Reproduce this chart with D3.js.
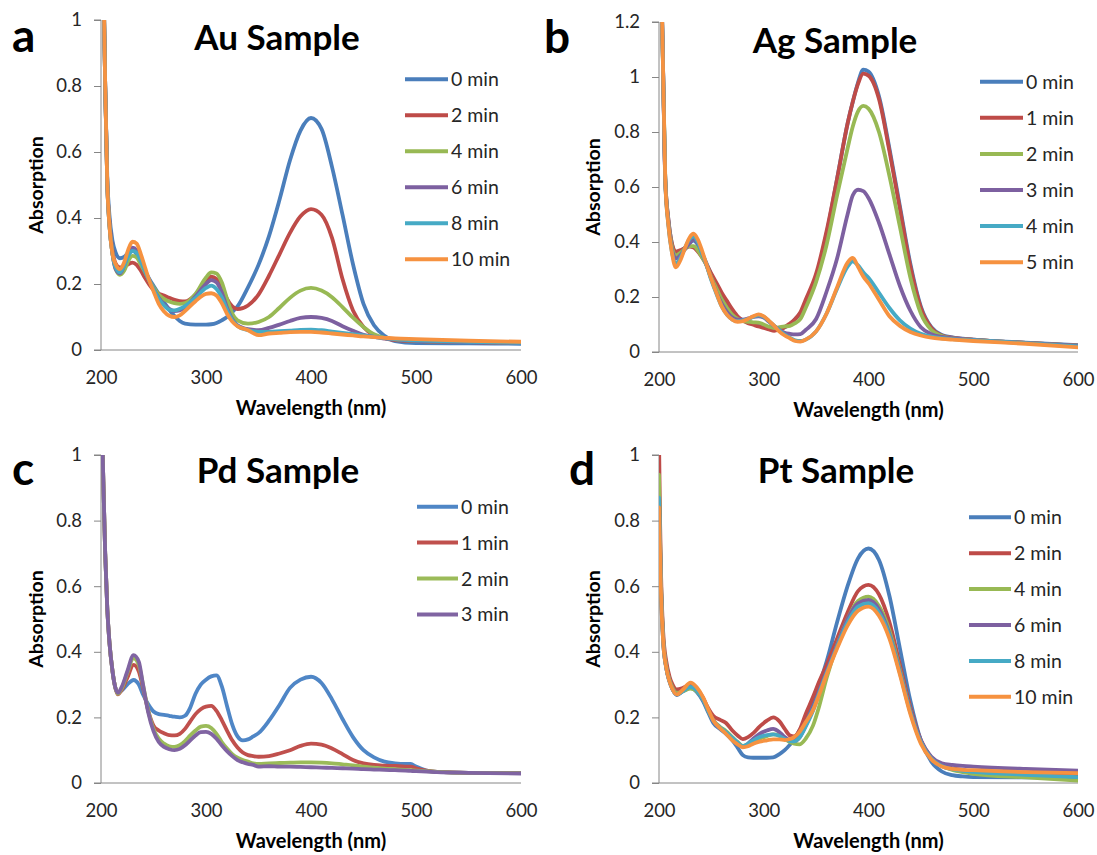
<!DOCTYPE html>
<html>
<head>
<meta charset="utf-8">
<script src="https://cdn.jsdelivr.net/npm/d3@7"></script>
<style>
  html, body { margin: 0; padding: 0; background: #ffffff; }
  svg { display: block; font-family: Lato, "Liberation Sans", Arial, sans-serif; }
</style>
</head>
<body>
<svg id="fig" width="1097" height="855"></svg>
<script>
// ---------- Shared tick labels ----------
const X_TICKS = [200, 300, 400, 500, 600];
const Y_TICKS_1 = [0, 0.2, 0.4, 0.6, 0.8, 1];
const Y_TICKS_12 = [0, 0.2, 0.4, 0.6, 0.8, 1, 1.2];

// ---------- (a) Au sample ----------
const WL_AU = [200, 203, 204, 206, 208, 211, 214, 218, 222, 226, 230, 234, 238, 242, 246, 250, 255, 260, 265, 270, 275, 280, 290, 300, 305, 310, 315, 320, 325, 330, 340, 350, 360, 370, 380, 390, 400, 410, 420, 430, 440, 450, 460, 470, 480, 500, 550, 600];
const AU_0  = [1.5, 1.0, 0.8, 0.52, 0.41, 0.33, 0.295, 0.278, 0.282, 0.295, 0.302, 0.29, 0.265, 0.24, 0.215, 0.195, 0.17, 0.145, 0.122, 0.103, 0.088, 0.08, 0.077, 0.077, 0.078, 0.082, 0.09, 0.1, 0.115, 0.132, 0.19, 0.258, 0.345, 0.455, 0.575, 0.665, 0.703, 0.67, 0.555, 0.41, 0.26, 0.14, 0.075, 0.043, 0.027, 0.021, 0.02, 0.019];
const AU_2  = [1.5, 1.0, 0.8, 0.5, 0.39, 0.3, 0.262, 0.25, 0.252, 0.26, 0.265, 0.258, 0.24, 0.218, 0.198, 0.182, 0.171, 0.165, 0.158, 0.152, 0.148, 0.147, 0.168, 0.21, 0.222, 0.215, 0.19, 0.155, 0.132, 0.124, 0.135, 0.168, 0.225, 0.29, 0.355, 0.405, 0.427, 0.41, 0.34, 0.215, 0.12, 0.07, 0.045, 0.035, 0.03, 0.027, 0.024, 0.021];
const AU_4  = [1.5, 1.0, 0.8, 0.5, 0.38, 0.29, 0.245, 0.228, 0.24, 0.27, 0.285, 0.28, 0.258, 0.235, 0.21, 0.19, 0.168, 0.155, 0.147, 0.142, 0.14, 0.142, 0.17, 0.22, 0.235, 0.232, 0.205, 0.155, 0.11, 0.09, 0.08, 0.085, 0.1, 0.128, 0.158, 0.18, 0.188, 0.18, 0.16, 0.13, 0.098, 0.07, 0.048, 0.037, 0.032, 0.028, 0.025, 0.022];
const AU_6  = [1.5, 1.0, 0.8, 0.5, 0.38, 0.29, 0.245, 0.232, 0.255, 0.29, 0.31, 0.302, 0.272, 0.24, 0.21, 0.185, 0.158, 0.138, 0.125, 0.118, 0.12, 0.128, 0.162, 0.2, 0.212, 0.205, 0.175, 0.128, 0.093, 0.075, 0.063, 0.06, 0.067, 0.077, 0.088, 0.097, 0.1, 0.097, 0.088, 0.072, 0.058, 0.046, 0.04, 0.035, 0.032, 0.028, 0.024, 0.021];
const AU_8  = [1.5, 1.0, 0.8, 0.5, 0.38, 0.29, 0.25, 0.235, 0.255, 0.285, 0.3, 0.295, 0.268, 0.238, 0.21, 0.185, 0.155, 0.135, 0.122, 0.12, 0.125, 0.133, 0.158, 0.188, 0.195, 0.185, 0.16, 0.122, 0.09, 0.073, 0.06, 0.055, 0.055, 0.057, 0.059, 0.061, 0.062, 0.06, 0.056, 0.052, 0.048, 0.044, 0.04, 0.036, 0.033, 0.029, 0.025, 0.022];
const AU_10 = [1.5, 1.0, 0.8, 0.5, 0.38, 0.29, 0.26, 0.245, 0.265, 0.305, 0.328, 0.322, 0.29, 0.25, 0.21, 0.178, 0.14, 0.117, 0.104, 0.1, 0.105, 0.118, 0.148, 0.17, 0.172, 0.165, 0.142, 0.11, 0.086, 0.072, 0.06, 0.045, 0.05, 0.052, 0.054, 0.055, 0.055, 0.053, 0.05, 0.047, 0.044, 0.041, 0.039, 0.037, 0.035, 0.033, 0.028, 0.025];
const AU_LABELS = ["0 min", "2 min", "4 min", "6 min", "8 min", "10 min"];

// ---------- (b) Ag sample ----------
const WL_AG = [200, 203, 206, 209, 212, 216, 220, 225, 229, 233, 237, 241, 245, 250, 255, 260, 265, 270, 275, 280, 285, 290, 295, 300, 305, 310, 315, 320, 325, 330, 335, 340, 350, 360, 370, 380, 385, 390, 395, 400, 410, 420, 430, 440, 450, 460, 470, 480, 500, 550, 600];
const AG_0 = [1.5, 1.2, 0.63, 0.48, 0.4, 0.36, 0.365, 0.38, 0.395, 0.405, 0.39, 0.36, 0.325, 0.28, 0.235, 0.2, 0.165, 0.14, 0.125, 0.115, 0.11, 0.105, 0.1, 0.095, 0.09, 0.085, 0.085, 0.09, 0.1, 0.12, 0.14, 0.17, 0.27, 0.43, 0.63, 0.83, 0.91, 0.98, 1.027, 1.02, 0.93, 0.74, 0.53, 0.32, 0.165, 0.09, 0.062, 0.053, 0.045, 0.034, 0.025];
const AG_1 = [1.5, 1.2, 0.63, 0.48, 0.4, 0.365, 0.37, 0.378, 0.383, 0.38, 0.365, 0.345, 0.32, 0.285, 0.25, 0.215, 0.185, 0.155, 0.13, 0.115, 0.105, 0.099, 0.093, 0.088, 0.082, 0.077, 0.082, 0.09, 0.104, 0.12, 0.145, 0.19, 0.285, 0.44, 0.63, 0.83, 0.91, 0.975, 1.012, 1.005, 0.92, 0.73, 0.52, 0.31, 0.16, 0.088, 0.06, 0.052, 0.045, 0.033, 0.023];
const AG_2 = [1.5, 1.2, 0.63, 0.47, 0.39, 0.35, 0.36, 0.375, 0.385, 0.385, 0.37, 0.345, 0.318, 0.27, 0.23, 0.19, 0.16, 0.135, 0.12, 0.112, 0.11, 0.108, 0.107, 0.1, 0.092, 0.087, 0.09, 0.093, 0.095, 0.105, 0.12, 0.16, 0.255, 0.39, 0.57, 0.74, 0.82, 0.875, 0.895, 0.885, 0.8, 0.64, 0.455, 0.27, 0.14, 0.08, 0.058, 0.05, 0.044, 0.033, 0.023];
const AG_3 = [1.5, 1.2, 0.62, 0.47, 0.38, 0.34, 0.35, 0.375, 0.395, 0.41, 0.395, 0.36, 0.32, 0.265, 0.215, 0.175, 0.145, 0.125, 0.118, 0.118, 0.122, 0.128, 0.13, 0.125, 0.11, 0.095, 0.08, 0.07, 0.066, 0.064, 0.065, 0.08, 0.12, 0.22, 0.34, 0.5, 0.57, 0.59, 0.585, 0.56, 0.47, 0.355, 0.24, 0.15, 0.09, 0.065, 0.055, 0.05, 0.044, 0.033, 0.023];
const AG_4 = [1.5, 1.2, 0.62, 0.46, 0.37, 0.32, 0.34, 0.38, 0.41, 0.42, 0.4, 0.36, 0.32, 0.26, 0.21, 0.165, 0.135, 0.118, 0.112, 0.115, 0.12, 0.128, 0.133, 0.128, 0.112, 0.095, 0.078, 0.063, 0.052, 0.042, 0.04, 0.045, 0.075, 0.14, 0.23, 0.31, 0.33, 0.315, 0.29, 0.27, 0.215, 0.16, 0.115, 0.085, 0.066, 0.056, 0.05, 0.047, 0.043, 0.032, 0.02];
const AG_5 = [1.5, 1.2, 0.62, 0.46, 0.37, 0.308, 0.33, 0.38, 0.415, 0.43, 0.41, 0.37, 0.322, 0.265, 0.213, 0.165, 0.135, 0.118, 0.11, 0.112, 0.12, 0.13, 0.137, 0.13, 0.113, 0.095, 0.074, 0.06, 0.05, 0.04, 0.038, 0.045, 0.075, 0.14, 0.235, 0.325, 0.342, 0.31, 0.275, 0.25, 0.19, 0.13, 0.095, 0.073, 0.06, 0.052, 0.048, 0.045, 0.04, 0.03, 0.017];
const AG_LABELS = ["0 min", "1 min", "2 min", "3 min", "4 min", "5 min"];

// ---------- (c) Pd sample ----------
const WL_PD = [200, 202, 204, 206, 208, 211, 213, 216, 220, 225, 231, 236, 240, 245, 250, 255, 260, 265, 270, 275, 280, 285, 290, 295, 300, 305, 310, 315, 320, 325, 330, 335, 340, 345, 350, 360, 370, 380, 390, 400, 410, 420, 430, 440, 450, 460, 470, 480, 490, 495, 500, 510, 520, 550, 600];
const PD_0 = [1.2, 0.95, 0.7, 0.53, 0.43, 0.34, 0.3, 0.275, 0.283, 0.3, 0.314, 0.3, 0.27, 0.24, 0.218, 0.21, 0.208, 0.205, 0.202, 0.2, 0.205, 0.23, 0.272, 0.3, 0.315, 0.325, 0.328, 0.295, 0.235, 0.178, 0.142, 0.13, 0.133, 0.142, 0.152, 0.19, 0.238, 0.29, 0.315, 0.324, 0.305, 0.255, 0.195, 0.14, 0.1, 0.078, 0.065, 0.06, 0.058, 0.058, 0.05, 0.038, 0.034, 0.031, 0.03];
const PD_1 = [1.2, 0.95, 0.7, 0.53, 0.43, 0.34, 0.3, 0.27, 0.285, 0.32, 0.36, 0.34, 0.29, 0.22, 0.175, 0.16, 0.152, 0.146, 0.145, 0.15, 0.165, 0.188, 0.21, 0.225, 0.233, 0.235, 0.22, 0.192, 0.16, 0.13, 0.108, 0.093, 0.085, 0.082, 0.08, 0.082, 0.09, 0.1, 0.113, 0.12, 0.117, 0.105, 0.088, 0.07, 0.06, 0.055, 0.053, 0.052, 0.05, 0.05, 0.045, 0.038, 0.034, 0.031, 0.03];
const PD_2 = [1.2, 0.95, 0.7, 0.53, 0.43, 0.34, 0.3, 0.272, 0.29, 0.335, 0.38, 0.36, 0.3, 0.22, 0.165, 0.135, 0.12, 0.112, 0.11, 0.115, 0.128, 0.145, 0.16, 0.172, 0.174, 0.168, 0.15, 0.125, 0.105, 0.088, 0.077, 0.07, 0.065, 0.06, 0.058, 0.06, 0.061, 0.062, 0.063, 0.063, 0.062, 0.06, 0.057, 0.054, 0.05, 0.047, 0.044, 0.042, 0.04, 0.039, 0.038, 0.036, 0.034, 0.031, 0.03];
const PD_3 = [1.2, 0.95, 0.7, 0.53, 0.43, 0.34, 0.3, 0.275, 0.295, 0.34, 0.39, 0.37, 0.3, 0.215, 0.158, 0.125, 0.11, 0.103, 0.1, 0.104, 0.115, 0.13, 0.145, 0.155, 0.156, 0.15, 0.135, 0.115, 0.097, 0.082, 0.07, 0.063, 0.058, 0.055, 0.05, 0.051, 0.05, 0.05, 0.049, 0.048, 0.047, 0.046, 0.045, 0.044, 0.042, 0.041, 0.04, 0.039, 0.038, 0.037, 0.036, 0.035, 0.033, 0.031, 0.029];
const PD_LABELS = ["0 min", "1 min", "2 min", "3 min"];

// ---------- (d) Pt sample ----------
const WL_PT = [200, 201, 202, 204, 207, 210, 213, 217, 223, 230, 236, 242, 247, 252, 258, 264, 270, 275, 280, 285, 290, 296, 303, 309, 315, 320, 325, 329, 334, 340, 347, 353, 360, 370, 380, 390, 400, 410, 420, 430, 440, 450, 460, 470, 480, 490, 500, 550, 600];
const PT_0  = [0.9, 0.74, 0.6, 0.44, 0.35, 0.31, 0.285, 0.268, 0.28, 0.29, 0.278, 0.25, 0.215, 0.182, 0.165, 0.15, 0.13, 0.108, 0.085, 0.078, 0.077, 0.077, 0.077, 0.078, 0.088, 0.1, 0.117, 0.133, 0.16, 0.195, 0.25, 0.3, 0.37, 0.49, 0.6, 0.685, 0.715, 0.68, 0.57, 0.41, 0.25, 0.13, 0.065, 0.035, 0.024, 0.02, 0.018, 0.017, 0.017];
const PT_2  = [1.05, 0.8, 0.63, 0.46, 0.37, 0.325, 0.3, 0.285, 0.29, 0.3, 0.288, 0.26, 0.228, 0.204, 0.193, 0.183, 0.16, 0.145, 0.134, 0.14, 0.152, 0.172, 0.19, 0.2, 0.188, 0.165, 0.145, 0.142, 0.16, 0.21, 0.262, 0.31, 0.36, 0.44, 0.52, 0.585, 0.604, 0.575, 0.49, 0.36, 0.23, 0.13, 0.078, 0.055, 0.045, 0.04, 0.035, 0.03, 0.025];
const PT_4  = [0.94, 0.75, 0.6, 0.44, 0.355, 0.315, 0.29, 0.275, 0.28, 0.288, 0.28, 0.255, 0.22, 0.19, 0.172, 0.158, 0.14, 0.125, 0.113, 0.118, 0.125, 0.135, 0.143, 0.148, 0.145, 0.135, 0.125, 0.12, 0.118, 0.135, 0.175, 0.235, 0.32, 0.42, 0.5, 0.555, 0.568, 0.54, 0.465, 0.345, 0.22, 0.125, 0.075, 0.052, 0.04, 0.033, 0.028, 0.017, 0.007];
const PT_6  = [0.86, 0.72, 0.58, 0.43, 0.35, 0.31, 0.285, 0.27, 0.282, 0.297, 0.285, 0.255, 0.22, 0.188, 0.168, 0.153, 0.135, 0.12, 0.11, 0.12, 0.135, 0.15, 0.16, 0.165, 0.155, 0.14, 0.13, 0.128, 0.138, 0.175, 0.225, 0.28, 0.34, 0.42, 0.5, 0.548, 0.558, 0.53, 0.455, 0.34, 0.22, 0.13, 0.08, 0.06, 0.055, 0.052, 0.05, 0.043, 0.038];
const PT_8  = [0.87, 0.72, 0.58, 0.43, 0.35, 0.31, 0.285, 0.27, 0.28, 0.293, 0.282, 0.255, 0.22, 0.19, 0.17, 0.155, 0.138, 0.124, 0.112, 0.12, 0.13, 0.14, 0.146, 0.148, 0.143, 0.134, 0.128, 0.127, 0.138, 0.172, 0.22, 0.275, 0.335, 0.415, 0.49, 0.538, 0.548, 0.52, 0.45, 0.335, 0.215, 0.125, 0.075, 0.052, 0.042, 0.037, 0.034, 0.025, 0.018];
const PT_10 = [0.84, 0.7, 0.57, 0.43, 0.35, 0.31, 0.285, 0.27, 0.285, 0.306, 0.292, 0.262, 0.225, 0.19, 0.168, 0.15, 0.13, 0.118, 0.109, 0.112, 0.12, 0.126, 0.13, 0.133, 0.133, 0.131, 0.134, 0.14, 0.155, 0.185, 0.222, 0.27, 0.33, 0.41, 0.48, 0.525, 0.538, 0.51, 0.44, 0.33, 0.21, 0.12, 0.072, 0.05, 0.043, 0.04, 0.039, 0.033, 0.03];
const PT_LABELS = ["0 min", "2 min", "4 min", "6 min", "8 min", "10 min"];

// ---------- Series colours ----------
const COLORS_OFFICE = ["#4A7EBB", "#BE4B48", "#98B954", "#7D60A0", "#46AAC5", "#F69240"];
const COLORS_PD = ["#4F86C6", "#C0504D", "#9BBB59", "#8064A2"];

// ---------- Panel layout ----------
const panels = [
  { letter: "a", title: "Au Sample", wl: WL_AU, series: [AU_0, AU_2, AU_4, AU_6, AU_8, AU_10], labels: AU_LABELS,
    colors: COLORS_OFFICE, yTicks: Y_TICKS_1, yMax: 1,
    x0: 101, x1: 521, yTop: 20, yBot: 350,
    letterX: 12, letterY: 52, titleX: 277, titleY: 50, ylabX: 36,
    legX0: 405, legX1: 448, legTextX: 451, legY: 79.3, legStep: 36 },
  { letter: "b", title: "Ag Sample", wl: WL_AG, series: [AG_0, AG_1, AG_2, AG_3, AG_4, AG_5], labels: AG_LABELS,
    colors: COLORS_OFFICE, yTicks: Y_TICKS_12, yMax: 1.2,
    x0: 659, x1: 1078, yTop: 22, yBot: 352,
    letterX: 544, letterY: 53, titleX: 835, titleY: 53, ylabX: 593,
    legX0: 980, legX1: 1023, legTextX: 1026, legY: 81.7, legStep: 36.1 },
  { letter: "c", title: "Pd Sample", wl: WL_PD, series: [PD_0, PD_1, PD_2, PD_3], labels: PD_LABELS,
    colors: COLORS_PD, yTicks: Y_TICKS_1, yMax: 1,
    x0: 101, x1: 521, yTop: 455, yBot: 783,
    letterX: 12, letterY: 485, titleX: 278, titleY: 483, ylabX: 36,
    legX0: 417, legX1: 458, legTextX: 461, legY: 506.7, legStep: 35.9 },
  { letter: "d", title: "Pt Sample", wl: WL_PT, series: [PT_0, PT_2, PT_4, PT_6, PT_8, PT_10], labels: PT_LABELS,
    colors: COLORS_OFFICE, yTicks: Y_TICKS_1, yMax: 1,
    x0: 659, x1: 1078, yTop: 455, yBot: 783,
    letterX: 569, letterY: 485, titleX: 836, titleY: 483, ylabX: 593,
    legX0: 969, legX1: 1011, legTextX: 1014, legY: 517.3, legStep: 35.9 }
];

const svg = d3.select("#fig");
const AXIS_GREY = "#868686";
const TEXT_DARK = "#262626";
const fmtTick = d3.format("~g");

panels.forEach(p => {
  const g = svg.append("g").attr("class", "panel panel-" + p.letter);
  const x = d3.scaleLinear().domain([200, 600]).range([p.x0, p.x1]);
  const y = d3.scaleLinear().domain([0, p.yMax]).range([p.yBot, p.yTop]);

  // y axis: outward ticks on the left, grey spine
  const yAxis = d3.axisLeft(y).tickValues(p.yTicks).tickSize(7).tickPadding(12).tickFormat(fmtTick);
  const yg = g.append("g").attr("transform", `translate(${p.x0},0)`).call(yAxis);
  yg.select(".domain").attr("stroke", AXIS_GREY).attr("d", `M-7,${p.yTop}H0V${p.yBot}`);
  yg.selectAll(".tick line").attr("stroke", AXIS_GREY);
  yg.selectAll(".tick text").attr("fill", TEXT_DARK).style("font-size", "18.5px")
    .style("font-family", "Lato, 'Liberation Sans', sans-serif");

  // x axis: plain spine with labels, no tick marks
  const xAxis = d3.axisBottom(x).tickValues(X_TICKS).tickSize(0).tickPadding(21).tickFormat(d3.format("d"));
  const xg = g.append("g").attr("transform", `translate(0,${p.yBot})`).call(xAxis);
  xg.select(".domain").attr("stroke", AXIS_GREY).attr("d", `M${p.x0 - 7},0H${p.x1}`);
  xg.selectAll(".tick text").attr("fill", TEXT_DARK).style("font-size", "18.5px")
    .style("font-family", "Lato, 'Liberation Sans', sans-serif");

  // clip the spectra to the plot area
  const clipId = "clip-" + p.letter;
  g.append("clipPath").attr("id", clipId).append("rect")
    .attr("x", p.x0).attr("y", p.yTop).attr("width", p.x1 - p.x0).attr("height", p.yBot - p.yTop);

  const line = d3.line().curve(d3.curveMonotoneX)
    .x(d => x(d[0])).y(d => y(d[1]));

  const lines = g.append("g").attr("clip-path", `url(#${clipId})`);
  p.series.forEach((vals, si) => {
    const pts = p.wl.map((w, i) => [w, vals[i]]);
    lines.append("path").datum(pts)
      .attr("d", line)
      .attr("fill", "none")
      .attr("stroke", p.colors[si])
      .attr("stroke-width", 3.8)
      .attr("stroke-linejoin", "round")
      .attr("stroke-linecap", "round");
  });

  // legend
  const lg = g.append("g").attr("class", "legend");
  p.labels.forEach((lab, si) => {
    const ly = p.legY + si * p.legStep;
    lg.append("line").attr("x1", p.legX0).attr("x2", p.legX1).attr("y1", ly).attr("y2", ly)
      .attr("stroke", p.colors[si]).attr("stroke-width", 4);
    lg.append("text").attr("x", p.legTextX).attr("y", ly).attr("dy", "0.36em")
      .attr("fill", TEXT_DARK).style("font-size", "19.5px").text(lab);
  });

  // titles and axis captions
  g.append("text").attr("x", p.titleX).attr("y", p.titleY).attr("text-anchor", "middle")
    .style("font-size", "35px").style("font-weight", "bold").attr("fill", "#000").text(p.title);
  g.append("text").attr("x", p.letterX).attr("y", p.letterY)
    .style("font-size", "46px").style("font-weight", "bold").attr("fill", "#000").text(p.letter);
  g.append("text").attr("x", (p.x0 + p.x1) / 2).attr("y", p.yBot + 65).attr("text-anchor", "middle")
    .style("font-size", "20px").style("font-weight", "bold").attr("fill", "#000").text("Wavelength (nm)");
  g.append("text").attr("transform", `translate(${p.ylabX},${(p.yTop + p.yBot) / 2}) rotate(-90)`)
    .attr("text-anchor", "middle").attr("dy", "0.36em")
    .style("font-size", "19.5px").style("font-weight", "bold").attr("fill", "#000").text("Absorption");
});
</script>
</body>
</html>
